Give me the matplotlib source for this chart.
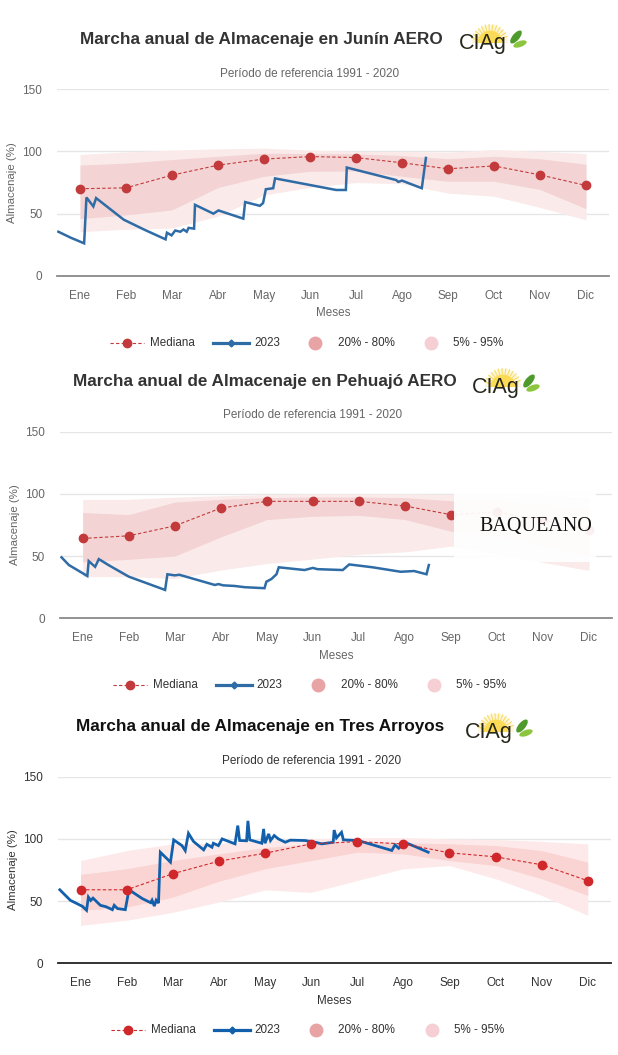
import numpy as np
import matplotlib
matplotlib.use('Agg')
import matplotlib.pyplot as plt
from matplotlib.lines import Line2D
from matplotlib.patches import Ellipse, Wedge, Rectangle
from matplotlib.transforms import Affine2D

W, H = 618, 1055
plt.rcParams['font.family'] = ['Liberation Sans', 'DejaVu Sans']

MESES = ['Ene', 'Feb', 'Mar', 'Abr', 'May', 'Jun', 'Jul', 'Ago', 'Sep', 'Oct', 'Nov', 'Dic']
meses_x = list(range(1, 13))

# --- Junín AERO ---
junin_mediana = [70, 70.7, 80.9, 88.9, 93.8, 95.8, 95.0, 90.8, 86, 88.3, 81.1, 72.6]
junin_p20 = [46, 49, 53, 71, 80, 84, 84.3, 80, 76, 76, 69.4, 54]
junin_p80 = [89, 90.5, 93.4, 96, 98.5, 98.2, 98, 96.6, 94, 96, 94, 89.7]
junin_p05 = [35.5, 37.5, 38.5, 48, 65, 71, 75, 74, 66.5, 64, 55, 45]
junin_p95 = [97.5, 99.5, 101, 102, 102.5, 101, 100, 100, 99.3, 101.4, 100, 98.2]
junin_2023_x = [0.53, 0.80, 1.09, 1.14, 1.29, 1.35, 1.95, 2.39, 2.86, 2.89, 2.99, 3.07,
                3.18, 3.25, 3.32, 3.36, 3.48, 3.50, 3.90, 4.01, 4.55, 4.59, 4.91, 4.98,
                5.04, 5.20, 5.24, 6.57, 6.78, 6.80, 7.87, 7.92, 8.0, 8.43, 8.52]
junin_2023_y = [35.5, 30.7, 26.2, 63, 55.8, 62.5, 45.2, 37.3, 29.4, 34.7, 32.6, 36.5,
                35.5, 37.3, 35.5, 38.6, 38, 57.1, 50, 52.6, 46, 59.3, 56.3, 58.5,
                69.6, 70.4, 78.3, 69, 69, 87, 77, 75.5, 76.5, 70.4, 94.7]

# --- Pehuajó AERO ---
pehuajo_mediana = [64.2, 66.3, 74.3, 88.6, 94, 94, 94, 90.3, 83.3, 85.5, 79, 71]
pehuajo_p20 = [45.4, 47.4, 50, 65.4, 79.4, 82, 82.8, 79.4, 70, 66, 58, 50]
pehuajo_p80 = [85, 83.4, 93.4, 95.6, 97, 97.5, 97.5, 97, 94.5, 95, 92, 88]
pehuajo_p05 = [33.5, 33.5, 32, 38.8, 44, 47.6, 51.4, 53.4, 58, 52, 45, 38.5]
pehuajo_p95 = [95.6, 95.6, 97.4, 98.5, 99.5, 100, 100, 100, 99.5, 100, 99, 97]
pehuajo_2023_x = [0.54, 0.70, 0.91, 1.10, 1.13, 1.27, 1.35, 1.56, 2.0, 2.79, 2.84, 3.0,
                  3.1, 3.87, 3.95, 4.05, 4.3, 4.52, 4.95, 4.99, 5.10, 5.21, 5.26, 5.82,
                  6.0, 6.1, 6.65, 6.79, 7.3, 7.91, 8.2, 8.47, 8.52]
pehuajo_2023_y = [49, 42.8, 38.2, 34, 46, 41.4, 47.6, 42.8, 33.5, 22.8, 35.4, 34.5,
                  35, 26.8, 27.5, 26.5, 26, 25, 24.2, 29.4, 31.6, 35.4, 41, 38.8,
                  40.5, 39.5, 38.8, 43.3, 41, 37.4, 38, 35.4, 42.8]

# --- Tres Arroyos ---
tres_mediana = [59.1, 59.1, 72, 82.1, 88.5, 96, 97.8, 96, 88.8, 85.6, 79.2, 66.4]
tres_p20 = [42.6, 45.2, 53.2, 66, 76, 82.6, 89.3, 88, 82.6, 78.6, 68, 54.6]
tres_p80 = [71.4, 76, 82.6, 88, 93, 96, 98, 97, 96, 94.7, 90.6, 81.3]
tres_p05 = [30.5, 34.6, 41, 49.3, 59, 57, 66.6, 76, 78.6, 68, 54.6, 38.6]
tres_p95 = [82.6, 90.6, 96, 96.5, 99, 100, 101, 101, 100, 99.5, 98, 96]
tres_2023_x = [0.55, 0.78, 1.04, 1.13, 1.17, 1.22, 1.27, 1.43, 1.55, 1.69, 1.73, 1.80,
               1.97, 2.05, 2.34, 2.52, 2.55, 2.60, 2.64, 2.69, 2.73, 2.95, 3.02, 3.20,
               3.27, 3.34, 3.45, 3.67, 3.74, 3.85, 3.88, 3.99, 4.07, 4.35, 4.41, 4.45,
               4.60, 4.63, 4.67, 4.93, 4.97, 5.0, 5.08, 5.12, 5.20, 5.29, 5.44, 5.55,
               5.87, 6.09, 6.23, 6.48, 6.50, 6.55, 6.66, 6.70, 7.02, 7.75, 7.82, 7.90,
               8.03, 8.29, 8.54]
tres_2023_y = [59.1, 50.6, 45.8, 42.6, 53.2, 50.5, 52.4, 46.6, 45.5, 43.1, 46.6, 44,
               43.1, 59.1, 52, 48.7, 50.7, 46, 50.7, 48.4, 89.3, 81.3, 99.2, 94.6,
               90.6, 104.5, 97.9, 91.2, 95.7, 93.3, 96.5, 94.6, 100, 96, 110.7, 98.7,
               98.5, 114.5, 99.2, 96.5, 108, 96.5, 104, 98.7, 102.7, 100, 97.3, 99,
               98.7, 97.3, 96, 97.3, 107.1, 100.8, 105.3, 99.2, 98.7, 90.7, 95.2, 92.5,
               97.3, 93.3, 89.3]

fig = plt.figure(figsize=(W / 100, H / 100), dpi=100)
# coordenadas en pixeles de la imagen (origen arriba a la izquierda)
PX = Affine2D().scale(1 / 100, -1 / 100).translate(0, H / 100) + fig.dpi_scale_trans


def logo(xl, base):
    cx, cy = xl + 31, base - 6
    fig.add_artist(Wedge((cx, cy), 18, 180, 360, transform=PX,
                         color='#fdf6d8', lw=0, zorder=1))
    for ang in np.arange(195, 350, 12):
        a = np.radians(ang)
        fig.add_artist(Line2D([cx + 13 * np.cos(a), cx + 18.5 * np.cos(a)],
                              [cy + 13 * np.sin(a), cy + 18.5 * np.sin(a)],
                              transform=PX, color='#f8dc6a', lw=0.8, zorder=1))
    fig.add_artist(Wedge((cx, cy), 12.5, 180, 360, transform=PX,
                         color='#fbdb55', lw=0, zorder=1))
    fig.text(xl, base, 'CIAg', transform=PX, fontsize=15.5, color='#26261a',
             ha='left', va='baseline', zorder=2)
    fig.add_artist(Ellipse((xl + 57, base - 12), 16, 7, angle=-50, transform=PX,
                           color='#4f9a2c', lw=0, zorder=3))
    fig.add_artist(Ellipse((xl + 61, base - 5), 14, 6, angle=-20, transform=PX,
                           color='#8cc63f', lw=0, zorder=3))


def panel(top, bottom, left, right, titulo, tit_x, tit_base, logo_x, logo_base,
          sub_base, mediana, p20, p80, p05, p95, x23, y23, dark_style=False):
    ax = fig.add_axes([left / W, 1 - bottom / H, (right - left) / W, (bottom - top) / H])
    if dark_style:
        c_light, c_dark, c_med, c_blue = '#fde9e9', '#fad3d3', '#d0282a', '#1260ab'
        c_txt, c_tit, c_axis, lw23 = '#333333', '#111111', '#222222', 2.0
    else:
        c_light, c_dark, c_med, c_blue = '#faeaea', '#f3d3d3', '#c23a3b', '#2f6ca6'
        c_txt, c_tit, c_axis, lw23 = '#666666', '#333333', '#8a8a8a', 1.8

    ax.fill_between(meses_x, p05, p95, color=c_light, lw=0, zorder=1)
    ax.fill_between(meses_x, p20, p80, color=c_dark, lw=0, zorder=2)
    ax.plot(x23, y23, color=c_blue, lw=lw23, zorder=4, solid_joinstyle='miter')
    ax.plot(meses_x, mediana, color=c_med, lw=0.8, ls=(0, (3, 2)), marker='o',
            ms=6, mec=c_med, mfc=c_med, zorder=5)

    ax.set_xlim(0.5, 12.5)
    ax.set_ylim(0, 150)
    ax.set_xticks(meses_x)
    ax.set_xticklabels(MESES)
    ax.set_yticks([0, 50, 100, 150])
    ax.grid(axis='y', color='#e6e6e6', lw=1)
    ax.set_axisbelow(True)
    for s in ['top', 'right', 'left']:
        ax.spines[s].set_visible(False)
    ax.spines['bottom'].set_color(c_axis)
    ax.spines['bottom'].set_linewidth(1.3)
    ax.spines['bottom'].set_zorder(6)
    ax.tick_params(axis='both', length=0, labelsize=8.5, labelcolor=c_txt)
    ax.tick_params(axis='x', pad=10)
    ax.tick_params(axis='y', pad=10.5)

    # titulos
    fig.text(tit_x, tit_base, titulo, transform=PX, fontsize=12.3, fontweight='bold',
             color=c_tit, ha='center', va='baseline')
    logo(logo_x, logo_base)
    fig.text((left + right) / 2 - 23, sub_base, 'Período de referencia 1991 - 2020',
             transform=PX, fontsize=8.5, color=c_txt, ha='center', va='baseline')
    fig.text((left + right) / 2, bottom + 40.5, 'Meses', transform=PX, fontsize=8.4,
             color=c_txt, ha='center', va='baseline')
    fig.text(left - 44.5, (top + bottom) / 2, 'Almacenaje (%)', transform=PX,
             fontsize=8.2, color=c_txt, rotation=90, ha='center', va='center')

    # leyenda
    yl = bottom + 66.5
    fig.add_artist(Line2D([left + 53, left + 87], [yl, yl], transform=PX, color=c_med,
                          lw=0.8, ls=(0, (3, 2))))
    fig.add_artist(Line2D([left + 70], [yl], transform=PX, color=c_med, marker='o',
                          ms=6, lw=0))
    fig.text(left + 93, yl, 'Mediana', transform=PX, fontsize=8.4, color='#333333',
             ha='left', va='center')
    fig.add_artist(Line2D([left + 156, left + 192], [yl, yl], transform=PX,
                          color=c_blue, lw=2.3))
    fig.add_artist(Line2D([left + 174], [yl], transform=PX, color=c_blue, marker='D',
                          ms=3.5, lw=0))
    fig.text(left + 197, yl, '2023', transform=PX, fontsize=8.4, color='#333333',
             ha='left', va='center')
    fig.add_artist(Line2D([left + 258], [yl], transform=PX, color='#e8a3a5',
                          marker='o', ms=9, lw=0))
    fig.text(left + 281, yl, '20% - 80%', transform=PX, fontsize=8.4, color='#333333',
             ha='left', va='center')
    fig.add_artist(Line2D([left + 374], [yl], transform=PX, color='#f5cfd3',
                          marker='o', ms=9, lw=0))
    fig.text(left + 396, yl, '5% - 95%', transform=PX, fontsize=8.4, color='#333333',
             ha='left', va='center')
    return ax


panel(89, 276, 57, 609, 'Marcha anual de Almacenaje en Junín AERO', 261.5, 44.3,
      459, 49, 76.7, junin_mediana, junin_p20, junin_p80, junin_p05, junin_p95,
      junin_2023_x, junin_2023_y)
panel(431.7, 618.3, 59.7, 612, 'Marcha anual de Almacenaje en Pehuajó AERO', 264.5, 386,
      472, 393, 418.3, pehuajo_mediana, pehuajo_p20, pehuajo_p80, pehuajo_p05,
      pehuajo_p95, pehuajo_2023_x, pehuajo_2023_y)
panel(776.7, 963.3, 57.5, 610.8, 'Marcha anual de Almacenaje en Tres Arroyos', 260, 730.7,
      465, 738, 764, tres_mediana, tres_p20, tres_p80, tres_p05, tres_p95,
      tres_2023_x, tres_2023_y, dark_style=True)

# marca de agua BAQUEANO sobre el segundo grafico
fig.add_artist(Rectangle((454, 492), 142, 70, transform=PX, color='white', alpha=0.93,
                         lw=0, zorder=10))
fig.text(536, 527, 'BAQUEANO', transform=PX, fontsize=14.5, color='#111111',
         family='Liberation Serif', ha='center', va='center', zorder=11)

fig.savefig('out.png', dpi=100)
